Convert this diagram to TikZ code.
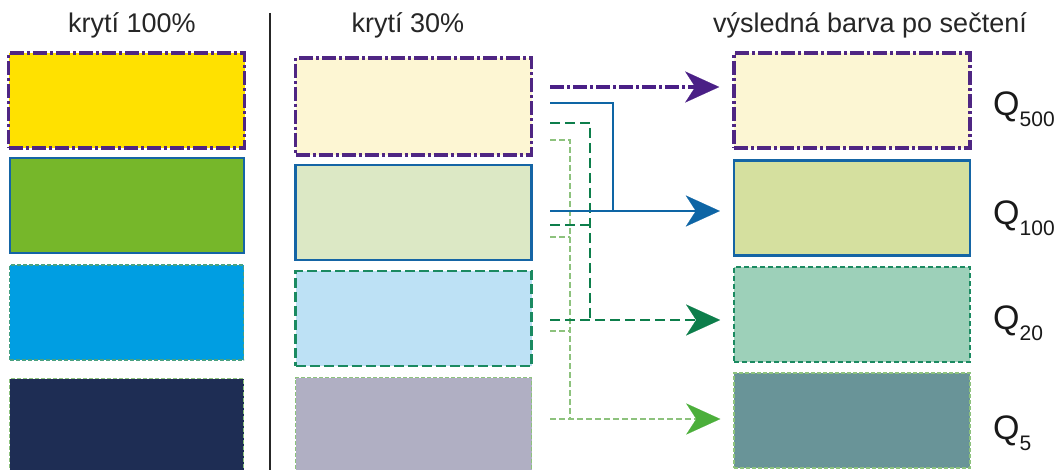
\documentclass[tikz,border=0pt]{standalone}
\usepackage{fontspec}
\setmainfont{Liberation Sans}
\usetikzlibrary{arrows.meta,calc}
\definecolor{cYel}{HTML}{FFE100}
\definecolor{cGrn}{HTML}{76B72A}
\definecolor{cCya}{HTML}{009EE2}
\definecolor{cNav}{HTML}{1E2D54}
\definecolor{mYel}{HTML}{FDF6D3}
\definecolor{mGrn}{HTML}{DCE8C5}
\definecolor{mCya}{HTML}{BDE1F5}
\definecolor{mNav}{HTML}{B0AFC3}
\definecolor{rYel}{HTML}{FCF6D3}
\definecolor{rGrn}{HTML}{D5E09F}
\definecolor{rCya}{HTML}{9DD0B9}
\definecolor{rNav}{HTML}{699498}
\definecolor{bPur}{HTML}{4F2683}
\definecolor{bBlu}{HTML}{1565A5}
\definecolor{bDkg}{HTML}{1B8A61}
\definecolor{bLtg}{HTML}{8DC27D}
\definecolor{aPur}{HTML}{4A1F86}
\definecolor{aBlu}{HTML}{0E65A5}
\definecolor{aDkg}{HTML}{0D7E4B}
\definecolor{aLtg}{HTML}{4CAF3B}
\tikzset{
  box/.style={rectangle, inner sep=0pt, minimum width=236pt, minimum height=95pt},
  purbox/.style={box, draw=bPur, line width=3.6pt, dash pattern=on 14pt off 3pt on 3pt off 3pt},
  blubox/.style={box, draw=bBlu, line width=2.4pt},
  dkgbox/.style={box, draw=bDkg, line width=2.4pt, dash pattern=on 10pt off 4pt},
  dkgthin/.style={box, draw=bDkg!80!white, line width=1.3pt, dash pattern=on 4pt off 2pt},
  ltgbox/.style={box, draw=bLtg, line width=0.9pt, dash pattern=on 4pt off 2pt},
  hdr/.style={font=\fontsize{27}{30}\selectfont, text=black!85, anchor=base},
  qlab/.style={anchor=base west, inner sep=0pt, text=black!90},
  purline/.style={draw=aPur, line width=3.4pt, dash pattern=on 14pt off 3pt on 3pt off 3pt},
  bluline/.style={draw=aBlu, line width=2.8pt},
  dkgline/.style={draw=aDkg, line width=2.6pt, dash pattern=on 10pt off 5pt},
  ltgline/.style={draw=bLtg, line width=1.4pt, dash pattern=on 6pt off 3pt},
  tip/.style={-{Stealth[length=34pt, width=31pt, inset=10pt, color=#1, line width=0.1pt]}, shorten >=13pt}
}
\newcommand{\Qlab}[1]{{\fontsize{34}{34}\selectfont Q}\raisebox{-11pt}{\fontsize{21}{21}\selectfont #1}}
\begin{document}
\begin{tikzpicture}[x=1pt, y=-1pt]
\useasboundingbox (0,0) rectangle (1060,470);
\fill[white] (0,0) rectangle (1060,470);
% headers
\node[hdr] (h1) at (132,33) {krytí 100\%};
\node[hdr] (h2) at (408,33) {krytí 30\%};
\node[hdr] (h3) at (870,33) {výsledná barva po sečtení};
% divider
\coordinate (dt) at (270,13);
\coordinate (db) at (270,472);
\draw[line width=1.8pt, black!85] (dt) -- (db);
% left column
\node[purbox, fill=cYel] (l1) at (126.5,100.5) {};
\node[blubox, fill=cGrn, minimum width=234pt, line width=2pt] (l2) at (126.5,206) {};
\node[dkgthin, fill=cCya, minimum width=234pt] (l3) at (126.5,312.5) {};
\node[ltgbox, fill=cNav, minimum width=234pt] (l4) at (126.5,426) {};
% middle column
\node[purbox, fill=mYel, minimum height=97pt] (m1) at (413.5,106.5) {};
\node[blubox, fill=mGrn] (m2) at (413.5,212.5) {};
\node[dkgbox, fill=mCya] (m3) at (413.5,318.5) {};
\node[ltgbox, fill=mNav] (m4) at (413.5,425) {};
% right column
\node[purbox, fill=rYel] (r1) at (852,100.5) {};
\node[blubox, fill=rGrn] (r2) at (852,208) {};
\node[dkgbox, fill=rCya, line width=1.8pt, dash pattern=on 5pt off 3pt] (r3) at (852,314.5) {};
\node[ltgbox, fill=rNav, line width=1.5pt] (r4) at (852,420.5) {};
% labels
\node[qlab] (q1) at (993,116) {\Qlab{500}};
\node[qlab] (q2) at (993,225) {\Qlab{100}};
\node[qlab] (q3) at (993,330) {\Qlab{20}};
\node[qlab] (q4) at (993,439) {\Qlab{5}};
% connector start points
\coordinate (a1) at (550,87);
\coordinate (b1) at (550,103);
\coordinate (b2) at (550,211);
\coordinate (bj) at (613,211);
\coordinate (g1) at (550,123);
\coordinate (g2) at (550,225);
\coordinate (g3) at (550,320);
\coordinate (gj) at (590,320);
\coordinate (k1) at (550,140);
\coordinate (k2) at (550,237);
\coordinate (k3) at (550,331);
\coordinate (k4) at (550,419);
\coordinate (kj) at (570,419);
% light green
\draw[ltgline] (k1) -| (kj);
\draw[ltgline] (k2) -- (k2 -| kj);
\draw[ltgline] (k3) -- (k3 -| kj);
\draw[ltgline, tip=aLtg] (k4) -- (k4 -| r4.west);
% dark green
\draw[dkgline] (g1) -| (gj);
\draw[dkgline] (g2) -- (g2 -| gj);
\draw[dkgline, tip=aDkg] (g3) -- (g3 -| r3.west);
% blue
\draw[bluline] (b1) -| (bj);
\draw[bluline, tip=aBlu] (b2) -- (b2 -| r2.west);
% purple
\draw[purline, tip=aPur] (a1) -- (a1 -| r1.west);
\end{tikzpicture}
\end{document}
